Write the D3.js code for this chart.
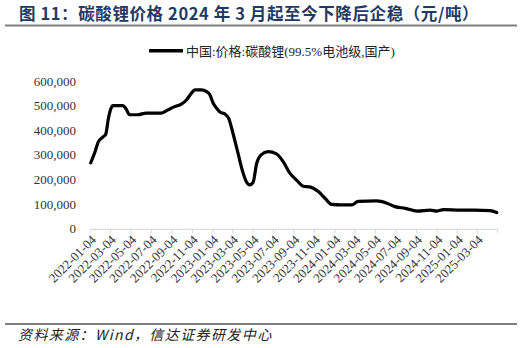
<!DOCTYPE html>
<html><head><meta charset="utf-8">
<script src="https://cdn.jsdelivr.net/npm/d3@7/dist/d3.min.js"></script>
<style>
body{margin:0;background:#fff;}
svg{display:block;}
</style></head>
<body><svg id="c" width="526" height="348"></svg>
<script>
const titleText = "图 11：碳酸锂价格 2024 年 3 月起至今下降后企稳（元/吨）";
const sourceText = "资料来源：Wind，信达证券研发中心";
const seriesName = "中国:价格:碳酸锂(99.5%电池级,国产)";
const yTicks = [0,100000,200000,300000,400000,500000,600000];
const xTickLabels = ["2022-01-04","2022-03-04","2022-05-04","2022-07-04","2022-09-04","2022-11-04",
"2023-01-04","2023-03-04","2023-05-04","2023-07-04","2023-09-04","2023-11-04",
"2024-01-04","2024-03-04","2024-05-04","2024-07-04","2024-09-04","2024-11-04",
"2025-01-04","2025-03-04"];
const dates = ["2022-01-04","2022-01-17","2022-01-27","2022-02-11","2022-02-18","2022-02-26","2022-03-06","2022-03-11",
"2022-04-10","2022-04-20","2022-04-30","2022-05-25","2022-06-19","2022-08-03","2022-08-23","2022-09-12",
"2022-10-02","2022-10-17","2022-11-01","2022-11-11","2022-12-01","2022-12-16","2022-12-26",
"2023-01-05","2023-01-15","2023-01-25","2023-02-10","2023-02-20","2023-03-05","2023-03-19",
"2023-04-04","2023-04-14","2023-04-24","2023-05-04","2023-05-15","2023-05-28","2023-06-18",
"2023-07-13","2023-08-02","2023-08-22","2023-09-11","2023-10-01","2023-10-21","2023-11-15",
"2023-12-05","2023-12-25","2024-01-19","2024-02-23","2024-03-13","2024-05-07","2024-06-07",
"2024-07-01","2024-08-01","2024-09-05","2024-10-14","2024-11-04","2024-11-23","2025-01-13",
"2025-02-22","2025-04-11","2025-05-01"];
const prices = [270000,315000,356000,376000,386000,451000,492000,502000,
502000,488000,465000,465000,472000,472000,485000,498000,
508000,525000,553000,566000,566000,559000,546000,
512000,492000,476000,467000,451000,390000,315000,
230000,193000,180000,190000,268000,302000,315000,
306000,275000,228000,200000,175000,172000,153000,
126000,101000,99000,99000,113000,115000,106000,
92000,85000,74000,78000,74000,80000,78000,
78000,76000,68000];

const svg = d3.select("#c");
const parse = d3.timeParse("%Y-%m-%d");
const data = dates.map((d,i)=>({date:parse(d), v:prices[i]}));

const x = d3.scaleTime().domain([parse("2022-01-04"), parse("2025-05-04")]).range([90.7, 497.7]);
const y = d3.scaleLinear().domain([0,600000]).range([229.3, 81.5]);

// title
svg.append("text").attr("x",19).attr("y",19.5)
  .attr("font-family","'Noto Sans CJK SC', sans-serif").attr("font-weight","bold")
  .attr("font-size",16.5).attr("letter-spacing",0.6).attr("fill","#1f3a64").text(titleText);
svg.append("line").attr("x1",5).attr("x2",517).attr("y1",25.5).attr("y2",25.5)
  .attr("stroke","#7f7f7f").attr("stroke-width",2);

// y axis labels
const serif = "'Liberation Serif','Times New Roman','Noto Sans CJK SC', serif";
svg.append("g").selectAll("text").data(yTicks).join("text")
  .attr("x",76).attr("y",d=>y(d)+4).attr("text-anchor","end")
  .attr("font-family",serif).attr("font-size",13).attr("fill","#333")
  .text(d=>d3.format(",")(d));

// x axis
const xAxisG = svg.append("g").attr("transform","translate(0,229.3)");
const tickDates = xTickLabels.map(parse).concat([parse("2025-05-04")]);
xAxisG.append("line").attr("x1",90.7).attr("x2",497.7).attr("stroke","#d9d9d9").attr("stroke-width",1.2);
xAxisG.selectAll("line.t").data(tickDates).join("line").attr("class","t")
  .attr("x1",d=>x(d)).attr("x2",d=>x(d)).attr("y1",0).attr("y2",4)
  .attr("stroke","#d9d9d9").attr("stroke-width",1);
xAxisG.selectAll("text").data(xTickLabels).join("text")
  .attr("transform",d=>`translate(${x(parse(d))+3},8) rotate(-45)`)
  .attr("text-anchor","end").attr("dy","0.35em")
  .attr("font-family",serif).attr("font-size",13).attr("fill","#333")
  .text(d=>d);

// line
const line = d3.line().x(d=>x(d.date)).y(d=>y(d.v)).curve(d3.curveMonotoneX);
svg.append("path").datum(data).attr("d",line).attr("fill","none")
  .attr("stroke","#000").attr("stroke-width",3.2).attr("stroke-linejoin","round").attr("stroke-linecap","round");

// legend
svg.append("line").attr("x1",149).attr("x2",183).attr("y1",50.7).attr("y2",50.7)
  .attr("stroke","#000").attr("stroke-width",3.5);
svg.append("text").attr("x",186).attr("y",55.5)
  .attr("font-family",serif).attr("font-size",13).attr("fill","#222").text(seriesName);

// footer
svg.append("line").attr("x1",5).attr("x2",517).attr("y1",324).attr("y2",324)
  .attr("stroke","#7f7f7f").attr("stroke-width",2);
svg.append("text").attr("x",18).attr("y",340)
  .attr("font-family","'Noto Sans CJK SC', sans-serif").attr("font-style","italic")
  .attr("font-size",14).attr("letter-spacing",1.4).attr("fill","#222").text(sourceText);
</script></body></html>
